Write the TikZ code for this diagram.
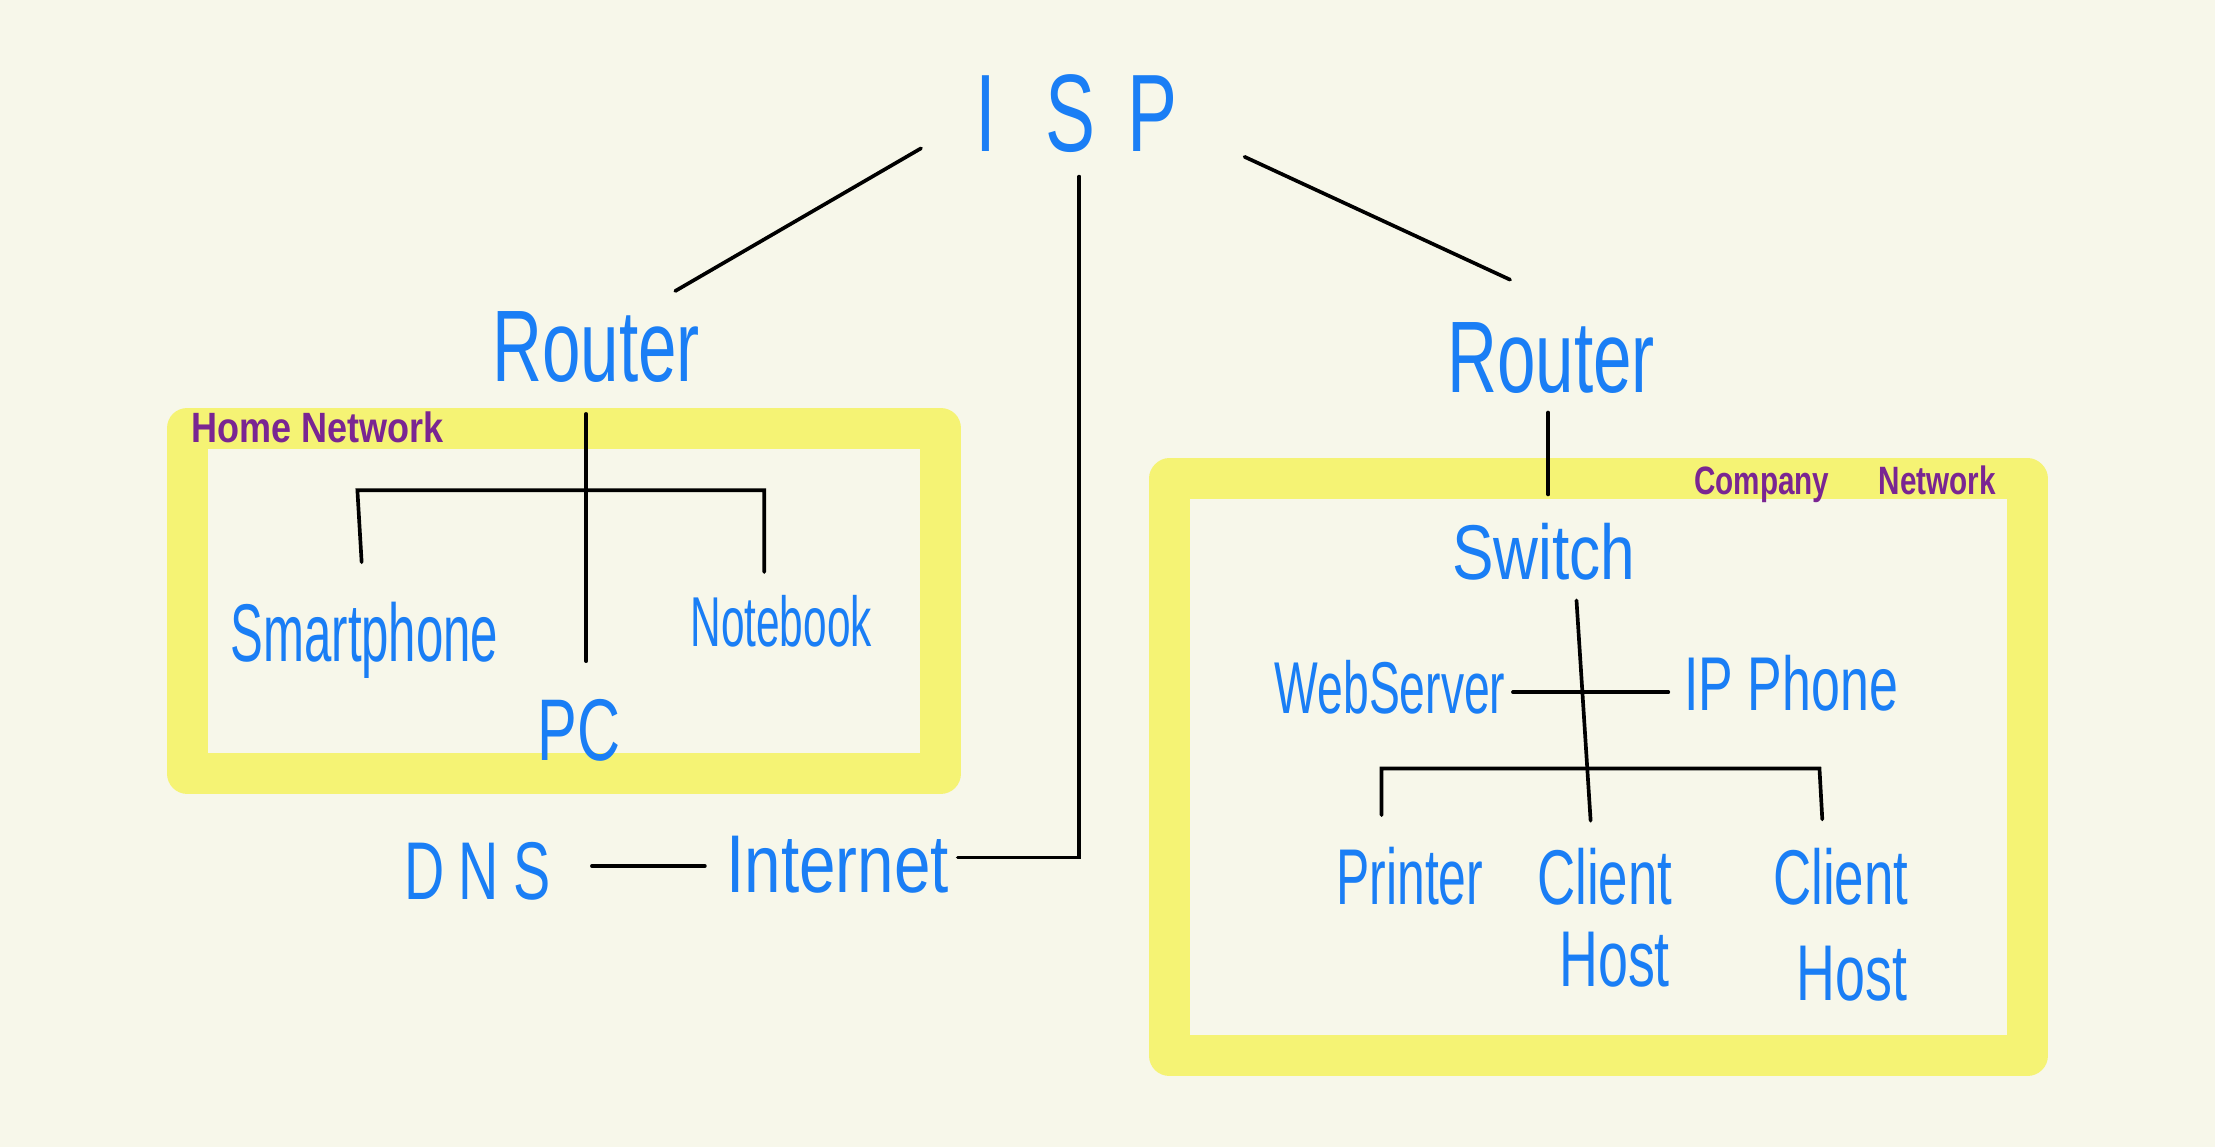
\documentclass[tikz,border=0pt]{standalone}
\usepackage{fontspec}
\setmainfont{Liberation Sans}
\newfontfamily\hand{Liberation Sans}[FakeStretch=0.68]
\newfontfamily\handn{Liberation Sans}[FakeStretch=0.60]
\newfontfamily\handm{Liberation Sans}[FakeStretch=0.63]
\newfontfamily\handw{Liberation Sans}[FakeStretch=0.80]
\newfontfamily\tagfa{Liberation Sans}[FakeStretch=0.85]
\newfontfamily\tagfb{Liberation Sans}[FakeStretch=0.75]
\definecolor{bgc}{HTML}{F7F7EA}
\definecolor{hl}{HTML}{F5F374}
\definecolor{ink}{HTML}{1A7EF5}
\definecolor{tagc}{HTML}{7A2592}
\tikzset{
  lbl/.style={text=ink, inner sep=0pt, anchor=base, font=\hand\fontsize{#1}{#1}\selectfont},
  lbl/.default=55,
  lbln/.style={text=ink, inner sep=0pt, anchor=base, font=\handn\fontsize{#1}{#1}\selectfont},
  lblm/.style={text=ink, inner sep=0pt, anchor=base, font=\handm\fontsize{#1}{#1}\selectfont},
  lblw/.style={text=ink, inner sep=0pt, anchor=base, font=\handw\fontsize{#1}{#1}\selectfont},
  conn/.style={draw=black, line width=2.6pt, line cap=round, line join=miter},
  band/.style={draw=hl, line width=29pt, line join=round},
  tagt/.style={text=tagc, inner sep=0pt, anchor=base}
}
\begin{document}
\begin{tikzpicture}[x=1pt,y=-1pt]
\fill[bgc] (0,0) rectangle (1568,812);
\useasboundingbox (0,0) rectangle (1568,812);

% network areas
\draw[band] (132.5,303) rectangle (666,547.5);
\draw[band] (828,339) rectangle (1435,747.5);
\node[tagt, font=\tagfa\bfseries\fontsize{30}{30}\selectfont] (homelbl) at (225,313) {Home Network};
\node[tagt, font=\tagfb\bfseries\fontsize{28}{28}\selectfont] (complbl) at (1306,350) {Company\hspace{35pt}Network};

% labels
\node[lbl=78] (isp) at (762,107) {I\hspace{35pt}S\hspace{22pt}P};
\node[lbl=72] (routerL) at (422,270) {Router};
\node[lbl=72] (routerR) at (1098,278) {Router};
\node[lbln=58] (smart) at (258,468) {Smartphone};
\node[lbln=50] (note) at (553,458) {Notebook};
\node[lbl=62] (pc) at (410,538) {PC};
\node[lbl=58] (dns) at (338,637) {D\hspace{10pt}N\hspace{10pt}S};
\node[lblw=58] (inet) at (593,632) {Internet};
\node[lblw=55] (switch) at (1093,410) {Switch};
\node[lblm=52] (web) at (984,505) {WebServer};
\node[lbl=54] (ipph) at (1268,503) {IP Phone};
\node[lblm=56] (printer) at (998,640) {Printer};
\node[lbl=55] (client1) at (1136,640) {Client};
\node[lbl=56] (host1) at (1143,698) {Host};
\node[lbl=55] (client2) at (1303,640) {Client};
\node[lbl=56] (host2) at (1311,708) {Host};

% connector end points
\coordinate (ispL) at (652,105);
\coordinate (ispR) at (881,111);
\coordinate (ispB) at (764,125);
\coordinate (ispCorner) at (764,607);
\coordinate (inetR) at (678,607);
\coordinate (rLtop) at (478,206);
\coordinate (rRtop) at (1069,198);
\coordinate (rLbot) at (415,293);
\coordinate (pcTop) at (415,468);
\coordinate (hL) at (253,347);
\coordinate (hR) at (541,347);
\coordinate (smartTop) at (256,398);
\coordinate (noteTop) at (541,405);
\coordinate (dnsR) at (419,613);
\coordinate (inetL) at (499,613);
\coordinate (rRbot) at (1096,292);
\coordinate (swTop) at (1096,350);
\coordinate (swBot) at (1116,425);
\coordinate (c1Top) at (1126,581);
\coordinate (webR) at (1071,490);
\coordinate (ipL) at (1181,490);
\coordinate (bL) at (978,544);
\coordinate (bR) at (1288,544);
\coordinate (prTop) at (978,577);
\coordinate (c2Top) at (1290,580);

% connectors
\draw[conn] (ispL) -- (rLtop);
\draw[conn] (ispR) -- (rRtop);
\draw[conn] (ispB) -- (ispCorner) -- (inetR);
\draw[conn] (rLbot) -- (pcTop);
\draw[conn] (smartTop) -- (hL) -- (hR) -- (noteTop);
\draw[conn] (dnsR) -- (inetL);
\draw[conn] (rRbot) -- (swTop);
\draw[conn] (swBot) -- (c1Top);
\draw[conn] (webR) -- (ipL);
\draw[conn] (prTop) -- (bL) -- (bR) -- (c2Top);
\end{tikzpicture}
\end{document}
